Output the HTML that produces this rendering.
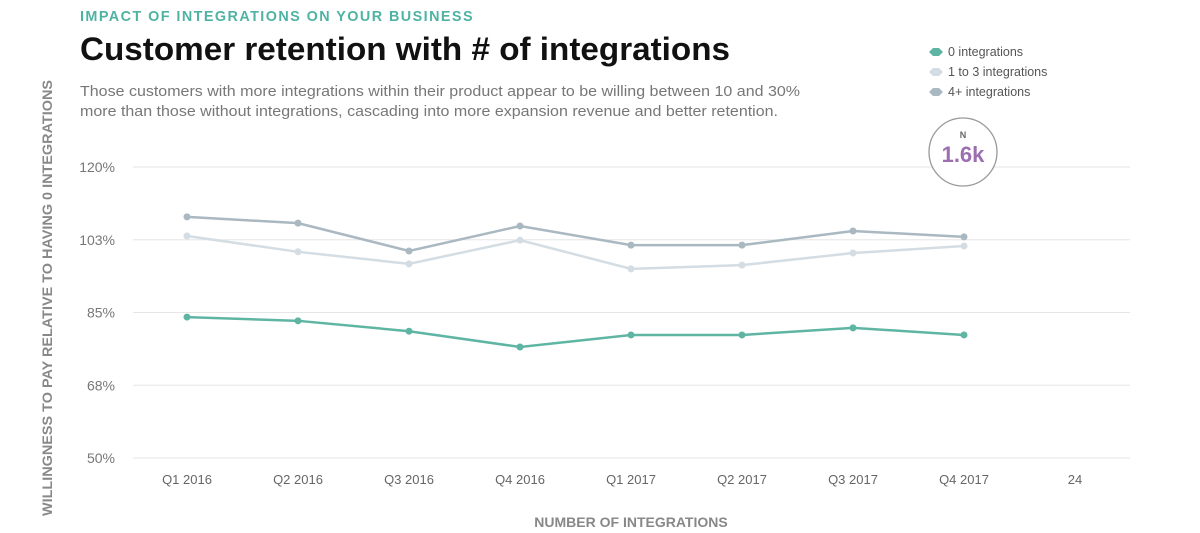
<!DOCTYPE html>
<html><head><meta charset="utf-8"><style>
body{margin:0;background:#fff;}
svg{display:block;font-family:"Liberation Sans",sans-serif;}
</style></head><body>
<svg id="c" width="1200" height="533" viewBox="0 0 1200 533" xmlns="http://www.w3.org/2000/svg">
<text x="80" y="21" font-size="15" font-weight="bold" fill="#4fb3a3" letter-spacing="1.5" textLength="394" lengthAdjust="spacingAndGlyphs">IMPACT OF INTEGRATIONS ON YOUR BUSINESS</text>
<text x="80" y="60" font-size="32" font-weight="bold" fill="#111" textLength="650" lengthAdjust="spacingAndGlyphs">Customer retention with # of integrations</text>
<text x="80" y="96" font-size="14.5" fill="#777" textLength="720" lengthAdjust="spacingAndGlyphs">Those customers with more integrations within their product appear to be willing between 10 and 30%</text>
<text x="80" y="116" font-size="14.5" fill="#777" textLength="698" lengthAdjust="spacingAndGlyphs">more than those without integrations, cascading into more expansion revenue and better retention.</text>
<text transform="translate(52,298) rotate(-90)" text-anchor="middle" font-size="14" font-weight="bold" fill="#888" textLength="436" lengthAdjust="spacingAndGlyphs">WILLINGNESS TO PAY RELATIVE TO HAVING 0 INTEGRATIONS</text>
<text x="631" y="527" text-anchor="middle" font-size="14" font-weight="bold" fill="#888">NUMBER OF INTEGRATIONS</text>
<g id="grid"></g><g id="series"></g>
<g>
<polygon points="929,52 933,48 939,48 943,52 939,56 933,56" fill="#5fb5a3"/>
<text x="948" y="56" font-size="12.5" fill="#555">0 integrations</text>
<polygon points="929,72 933,68 939,68 943,72 939,76 933,76" fill="#d3dde3"/>
<text x="948" y="76" font-size="12.5" fill="#555">1 to 3 integrations</text>
<polygon points="929,92 933,88 939,88 943,92 939,96 933,96" fill="#a9b8c1"/>
<text x="948" y="96" font-size="12.5" fill="#555">4+ integrations</text>
</g>
<g>
<circle cx="963" cy="152" r="34" fill="#fff" stroke="#999" stroke-width="1.3"/>
<text x="963" y="138" text-anchor="middle" font-size="9" font-weight="bold" fill="#666">N</text>
<text x="963" y="162" text-anchor="middle" font-size="22" font-weight="bold" fill="#9b6fb0">1.6k</text>
</g>
</svg>
<script>
const categories=["Q1 2016","Q2 2016","Q3 2016","Q4 2016","Q1 2017","Q2 2017","Q3 2017","Q4 2017","24"];
const yTicks=[50,67.5,85,102.5,120];
const yTickLabels=["50%","68%","85%","103%","120%"];
const s0=[83.9,83.0,80.5,76.7,79.6,79.6,81.3,79.6];
const s13=[103.4,99.6,96.7,102.4,95.5,96.4,99.3,101.0];
const s4=[108.0,106.5,99.8,105.8,101.2,101.2,104.6,103.2];
const NS="http://www.w3.org/2000/svg";
const xS=i=>187+i*111;
const yS=v=>458-(v-50)*(291/70);
const grid=document.getElementById('grid'),ser=document.getElementById('series');
function mk(t,a,p){const e=document.createElementNS(NS,t);for(const k in a)e.setAttribute(k,a[k]);p.appendChild(e);return e;}
yTicks.forEach((v,i)=>{
 const l=mk('line',{x1:133,x2:1130,y1:yS(v),y2:yS(v),stroke:'#e6e6e6','stroke-width':1},grid);
 
 
 const t=mk('text',{x:115,y:yS(v)+5,'text-anchor':'end','font-size':14,fill:'#777'},grid);
 t.textContent=yTickLabels[i];
 
 
});
categories.forEach((c,i)=>{
 const t=mk('text',{x:xS(i),y:484,'text-anchor':'middle','font-size':13,fill:'#666'},grid);
 t.textContent=c;
 
 
});
[[s4,'#a9b8c1','4plus'],[s13,'#d3dde3','1-3'],[s0,'#5fb5a3','0']].forEach(([d,col,n])=>{
 const p=mk('polyline',{points:d.map((v,i)=>xS(i)+','+yS(v)).join(' '),fill:'none',stroke:col,'stroke-width':2.5},ser);
 
 
 d.forEach((v,i)=>{
  const c=mk('circle',{cx:xS(i),cy:yS(v),r:3.5,fill:col},ser);
  
  
 });
});
</script>
</body></html>
